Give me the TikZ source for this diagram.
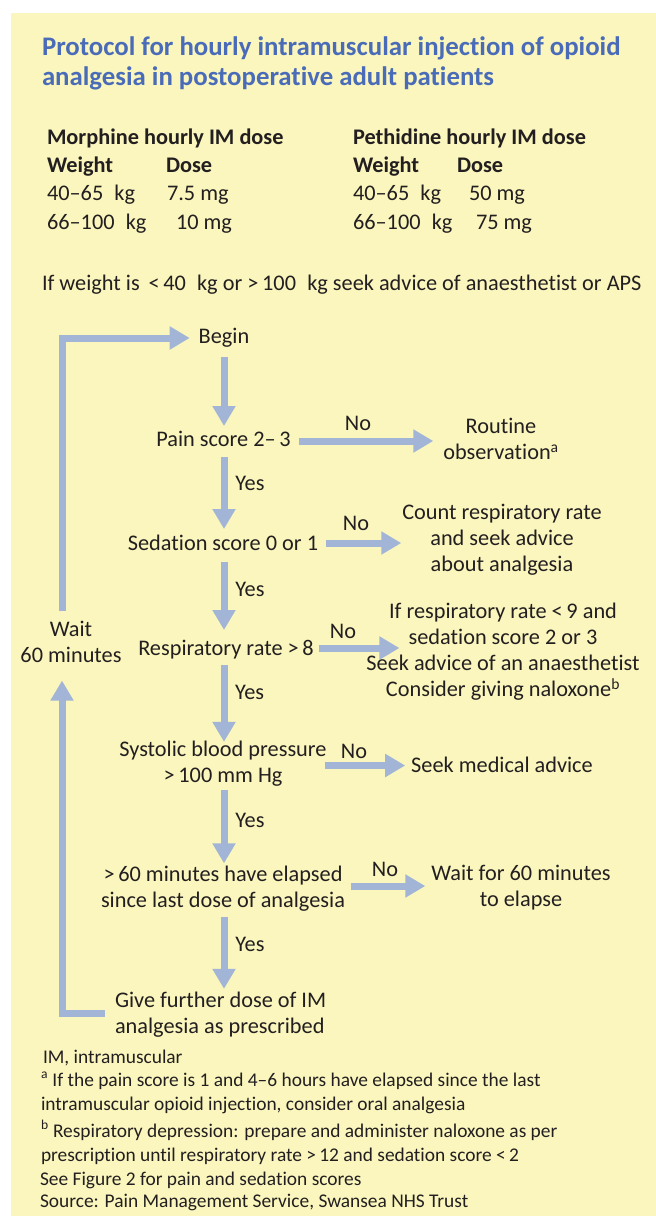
\documentclass[tikz,border=0pt]{standalone}
\usepackage{fontspec}
\setmainfont[Ligatures=NoCommon]{Carlito}
\usetikzlibrary{arrows.meta}
\definecolor{bg}{HTML}{FAF6BD}
\definecolor{titleblue}{HTML}{4A6CB8}
\definecolor{flowblue}{HTML}{A3B5D6}
\definecolor{ink}{HTML}{231F20}
\newcommand\bodyfont{\fontsize{22.3bp}{26bp}\selectfont}
\newcommand\notefont{\fontsize{19.4bp}{24.5bp}\selectfont}
\newcommand\headfont{\fontsize{26.8bp}{30bp}\selectfont\bfseries}
\begin{document}
\begin{tikzpicture}[x=1bp,y=-1bp,
  txt/.style={inner sep=0pt, outer sep=0pt, text=ink, font=\bodyfont, align=center,
    execute at begin node=\strut, execute at end node=\strut},
  ltxt/.style={txt, align=left, anchor=west},
  note/.style={ltxt, font=\notefont},
  head/.style={ltxt, text=titleblue, font=\headfont},
  flow/.style={draw=flowblue, line width=7bp, -{Triangle[width=22bp,length=20bp]}},
  lab/.style={txt}
]
\useasboundingbox (0,0) rectangle (656,1216);
\fill[white] (0,0) rectangle (656,1216);
\fill[bg] (10.5,13) rectangle (656,1216);

% title
\node[head] (title) at (42,66) {Protocol for hourly intramuscular injection of opioid\\analgesia in postoperative adult patients};

% dose table
\node[ltxt, font=\bodyfont\bfseries] (morph) at (47,139) {Morphine hourly IM dose};
\node[ltxt, font=\bodyfont\bfseries] (mw) at (47,167) {Weight};
\node[ltxt, font=\bodyfont\bfseries] (md) at (166,167) {Dose};
\node[ltxt] (m1w) at (47,195) {40–65\enspace kg};
\node[ltxt] (m1d) at (167,195) {7.5 mg};
\node[ltxt] (m2w) at (47,224) {66–100\enspace kg};
\node[ltxt] (m2d) at (176,224) {10 mg};
\node[ltxt, font=\bodyfont\bfseries] (peth) at (353,139) {Pethidine hourly IM dose};
\node[ltxt, font=\bodyfont\bfseries] (pw) at (353,167) {Weight};
\node[ltxt, font=\bodyfont\bfseries] (pd) at (457,167) {Dose};
\node[ltxt] (p1w) at (353,195) {40–65\enspace kg};
\node[ltxt] (p1d) at (469,195) {50 mg};
\node[ltxt] (p2w) at (353,224) {66–100\enspace kg};
\node[ltxt] (p2d) at (476,224) {75 mg};
\node[ltxt] (ifw) at (42,285) {If weight is \,<\,40\enspace kg or >\,100\enspace kg seek advice of anaesthetist or APS};

% flowchart nodes
\node[txt] (begin) at (224,338) {Begin};
\node[txt] (pain) at (223.5,441) {Pain score 2–\,3};
\node[txt] (routine) at (501,443) {Routine\\observation\textsuperscript{a}};
\node[txt] (sed) at (223,545) {Sedation score 0 or 1};
\node[txt] (count) at (502,542) {Count respiratory rate\\and seek advice\\about analgesia};
\node[txt] (resp) at (226,650) {Respiratory rate >\,8};
\node[txt] (ifresp) at (503,654) {If respiratory rate <\,9 and\\sedation score 2 or 3\\Seek advice of an anaesthetist\\Consider giving naloxone\textsuperscript{b}};
\node[txt] (sys) at (223,765.5) {Systolic blood pressure\\>\,100 mm Hg};
\node[txt] (seekmed) at (502,767) {Seek medical advice};
\node[txt] (elap) at (223,891) {>\,60 minutes have elapsed\\since last dose of analgesia};
\node[txt] (waitfor) at (521,889.5) {Wait for 60 minutes\\to elapse};
\node[ltxt] (give) at (115,1016.5) {Give further dose of IM\\analgesia as prescribed};
\node[txt] (wait) at (71,646) {Wait\\60 minutes};

\coordinate (col) at (224,0);
\coordinate (loopx) at (62,0);

% yes arrows
\draw[flow, shorten <=6bp, shorten >=2bp] (begin.south -| col) -- (pain.north -| col);
\draw[flow, shorten <=3bp, shorten >=3bp] (pain.south -| col) -- (sed.north -| col);
\draw[flow, shorten <=4bp, shorten >=7bp] (sed.south -| col) -- (resp.north -| col);
\draw[flow, shorten <=2bp, shorten >=-1bp] (resp.south -| col) -- (sys.north -| col) node[lab, pos=0.4, right=11bp] (y3) {Yes};
\draw[flow, shorten <=0bp, shorten >=3bp] (sys.south -| col) -- (elap.north -| col);
\draw[flow, shorten <=1bp, shorten >=3bp] (elap.south -| col) -- (give.north -| col);

\node[lab] (y1) at (250,485) {Yes};
\node[lab] (y2) at (250,591) {Yes};
\node[lab] (y4) at (250,822) {Yes};
\node[lab] (y5) at (250,946) {Yes};

% no arrows
\draw[flow, shorten <=8bp, shorten >=10bp] (pain.east) -- (pain.east -| routine.west);
\draw[flow, shorten <=8bp, shorten >=1bp] ([yshift=2bp]sed.east) -- ([yshift=2bp]sed.east -| count.west);
\draw[flow, shorten <=5bp] ([yshift=2bp]resp.east) -- ([xshift=33bp,yshift=2bp]resp.east -| ifresp.west);
\draw[flow, shorten <=-2bp, shorten >=6bp] (sys.east) -- (sys.east -| seekmed.west);
\draw[flow, shorten <=6bp, shorten >=6bp] ([yshift=5bp]elap.east) -- ([yshift=5bp]elap.east -| waitfor.west);

\node[lab] (n1) at (358,425) {No};
\node[lab] (n2) at (356,525) {No};
\node[lab] (n3) at (343,633) {No};
\node[lab] (n4) at (354,753) {No};
\node[lab] (n5) at (385,871) {No};

% loop back
\draw[flow, shorten >=10bp] ([xshift=-10.5bp,yshift=3.5bp]give.west) -| (wait.south -| loopx);
\draw[flow, shorten >=9bp] ([yshift=10bp]wait.north -| loopx) |- (begin.west);

% footnotes
\node[note] (im) at (43,1059) {IM, intramuscular};
\node[note] (fa) at (41,1095) {\textsuperscript{a} If the pain score is 1 and 4–6 hours have elapsed since the last\\intramuscular opioid injection, consider oral analgesia};
\node[note] (fb) at (41,1144.5) {\textsuperscript{b} Respiratory depression: prepare and administer naloxone as per\\prescription until respiratory rate >\,12 and sedation score <\,2};
\node[note] (see) at (40,1181) {See Figure 2 for pain and sedation scores};
\node[note] (src) at (40,1203) {Source: Pain Management Service, Swansea NHS Trust};
\end{tikzpicture}
\end{document}
